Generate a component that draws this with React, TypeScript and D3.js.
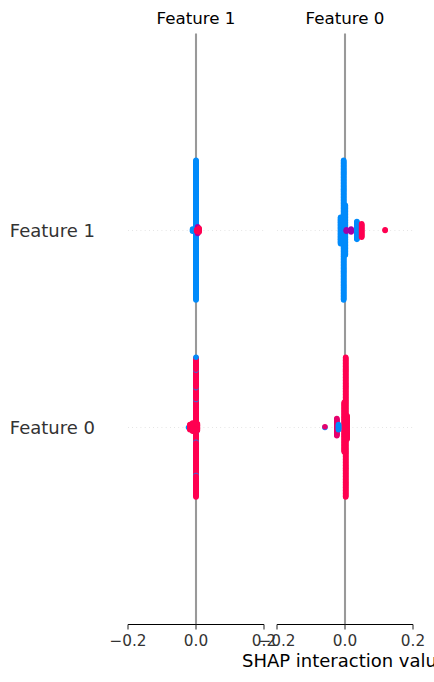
import { useEffect } from "react"
import * as d3 from "d3"

// column titles, left to right
const COLUMN_TITLES = ["Feature 1", "Feature 0"]
// y tick labels, by row position (0 = bottom)
const ROW_LABELS = ["Feature 0", "Feature 1"]
const X_TICKS = [-0.2, 0, 0.2]
const X_DOMAIN: [number, number] = [-0.2, 0.2]
const X_LABEL = "SHAP interaction value"

// runs of points: [shap interaction value, count, feature value 0..1]
type Run = [number, number, number]

// column "Feature 1", row "Feature 0"
const col1Row0: Run[] = [
  [0, 18, 1], [0, 1, 0], [0, 21, 1], [0, 1, 0], [0, 34, 1], [0, 1, 0], [0, 31, 1],
  [0, 1, 0], [0, 22, 1], [0, 1, 0], [0, 24, 1], [0, 1, 0], [0, 33, 1], [0, 1, 0],
  [-0.022, 1, 0],
  [-0.018, 8, 1],
  [-0.01, 12, 1],
  [0.004, 10, 1],
]
// column "Feature 1", row "Feature 1"
const col1Row1: Run[] = [
  [0, 190, 0],
  [-0.01, 4, 0],
  [0.005, 10, 0.5],
  [0.002, 3, 1],
  [0.009, 6, 1],
]
// column "Feature 0", row "Feature 0"
const col0Row0: Run[] = [
  [0.002, 190, 1],
  [-0.002, 68, 1],
  [0.006, 33, 1],
  [-0.024, 24, 0.85],
  [-0.019, 8, 0],
  [-0.059, 1, 0],
  [-0.059, 1, 0.85],
]
// column "Feature 0", row "Feature 1"
const col0Row1: Run[] = [
  [-0.004, 190, 0],
  [-0.013, 37, 0],
  [0.001, 68, 0],
  [0.004, 3, 0.5],
  [0.018, 5, 0.5],
  [0.035, 25, 0],
  [0.049, 19, 1],
  [0.118, 2, 1],
]

const PANEL_ROWS = [
  [col1Row0, col1Row1],
  [col0Row0, col0Row1],
]

const WIDTH = 434
const HEIGHT = 682
const PANEL_X = [
  [128, 264],
  [277, 413],
]
const TOP = 33.5
const BOTTOM = 624.5
const ROW_HEIGHT = 0.4
const NBINS = 100
const DOT_R = 2.78
const FONT = "DejaVu Sans"

// shap red_blue: blue -> purple -> red
const color = d3
  .scaleSequential(d3.piecewise(d3.interpolateLab, ["#008bfb", "#a000a8", "#ff0051"]))
  .domain([0, 1])

// beeswarm layout the way shap does it: bin values, stack alternately up/down
function layoutRow(runs: Run[]) {
  const pts = runs.flatMap(([v, n, c]) => d3.range(n).map(() => ({ v, c })))
  const lo = d3.min(pts, (p) => p.v)!
  const hi = d3.max(pts, (p) => p.v)!
  const quant = pts.map((p) => Math.round((NBINS * (p.v - lo)) / (hi - lo + 1e-8)))
  const order = d3.range(pts.length).sort((a, b) => quant[a] - quant[b] || a - b)
  const ys: number[] = new Array(pts.length).fill(0)
  let layer = 0
  let last = -1
  for (const i of order) {
    if (quant[i] !== last) layer = 0
    ys[i] = Math.ceil(layer / 2) * ((layer % 2) * 2 - 1)
    layer++
    last = quant[i]
  }
  const k = (0.9 * ROW_HEIGHT) / d3.max(ys, (y) => y + 1)!
  return pts.map((p, i) => ({ ...p, dy: ys[i] * k }))
}

export default function App() {
  useEffect(() => {
    document.body.style.margin = "0"
  }, [])

  const yScale = d3.scaleLinear().domain([-1, 2]).range([BOTTOM, TOP])
  const fmt = d3.format(".1f")

  return (
    <svg width={WIDTH} height={HEIGHT} style={{ display: "block", background: "#fff" }} fontFamily={FONT}>
      {PANEL_ROWS.map((rows, pi) => {
        const x = d3.scaleLinear().domain(X_DOMAIN).range(PANEL_X[pi])
        const [x0, x1] = x.range()
        return (
          <g key={pi}>
            {/* zero line */}
            <line x1={x(0)} x2={x(0)} y1={TOP} y2={BOTTOM} stroke="#999999" strokeWidth={2.08} />
            {rows.map((_, ri) => (
              <line
                key={"h" + ri}
                x1={x0}
                x2={x1}
                y1={yScale(ri)}
                y2={yScale(ri)}
                stroke="#cccccc"
                strokeWidth={0.7}
                strokeDasharray="0.7 3.5"
              />
            ))}
            {rows.map((runs, ri) =>
              layoutRow(runs).map((p, j) => (
                <circle key={ri + "-" + j} cx={x(p.v)} cy={yScale(ri + p.dy)} r={DOT_R} fill={color(p.c)} />
              ))
            )}
            {/* bottom axis */}
            <line x1={x0} x2={x1} y1={BOTTOM} y2={BOTTOM} stroke="#000" strokeWidth={1.1} />
            {X_TICKS.map((t) => (
              <g key={t}>
                <line x1={x(t)} x2={x(t)} y1={BOTTOM} y2={BOTTOM + 4.9} stroke="#333333" strokeWidth={1.1} />
                <text x={x(t)} y={646} textAnchor="middle" fontSize={15.3} fill="#333333">
                  {fmt(t)}
                </text>
              </g>
            ))}
            <text x={x(0)} y={24} textAnchor="middle" fontSize={16.7} fill="#000">
              {COLUMN_TITLES[pi]}
            </text>
            {pi === 0 &&
              ROW_LABELS.map((name, ri) => (
                <text key={name} x={95} y={yScale(ri) + 6.5} textAnchor="end" fontSize={18} fill="#333333">
                  {name}
                </text>
              ))}
            {pi === PANEL_ROWS.length - 1 && (
              <text x={x(0)} y={667} textAnchor="middle" fontSize={18} fill="#000">
                {X_LABEL}
              </text>
            )}
          </g>
        )
      })}
    </svg>
  )
}
